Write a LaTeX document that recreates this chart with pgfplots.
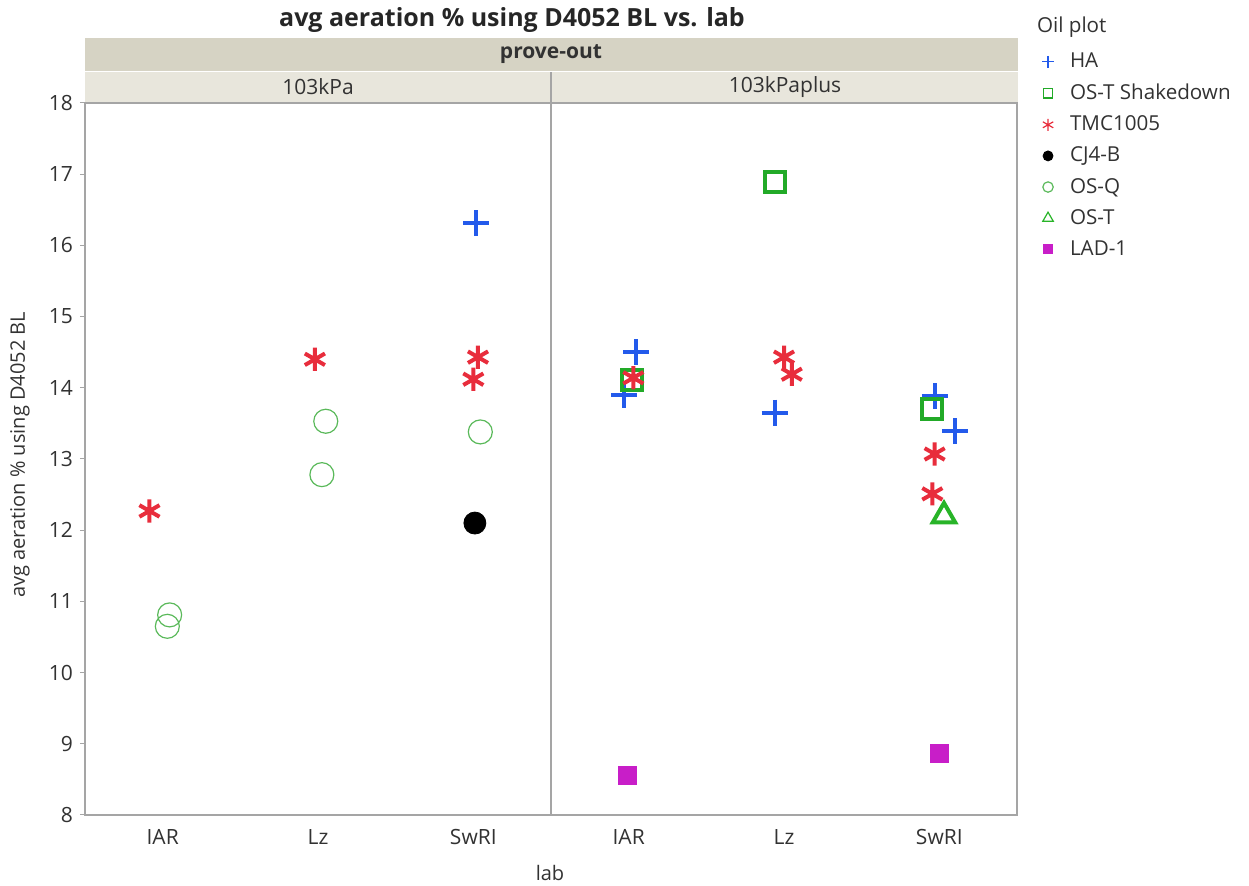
\documentclass[border=0pt]{standalone}
\usepackage{fontspec}
\setmainfont{Open Sans}
\usepackage{pgfplots}
\pgfplotsset{compat=1.18}
\definecolor{haBlue}{RGB}{35,90,235}
\definecolor{shGreen}{RGB}{34,170,40}
\definecolor{tmcRed}{RGB}{232,45,60}
\definecolor{osqGreen}{RGB}{90,185,90}
\definecolor{ostGreen}{RGB}{40,180,40}
\definecolor{ladMag}{RGB}{200,30,200}
\definecolor{hdrA}{RGB}{214,211,196}
\definecolor{hdrB}{RGB}{232,230,220}
\definecolor{frameGray}{RGB}{165,165,165}
\definecolor{txtGray}{RGB}{50,50,50}
\pgfplotsset{
  panel/.style={
    anchor=south west, width=233pt, height=356pt, scale only axis,
    xmin=-0.5, xmax=2.5, ymin=8, ymax=18,
    xtick={0,1,2}, xticklabels={IAR,Lz,SwRI},
    ytick={8,9,...,18},
    axis line style={draw=frameGray, line width=0.7pt},
    x tick style={draw=none},
    y tick style={draw=frameGray, line width=0.5pt},
    major tick length=2.5pt,
    tick align=outside, ytick pos=left, xtick pos=bottom,
    tick label style={font=\fontsize{10.5}{12}\selectfont, text=txtGray},
    /pgf/number format/assume math mode=true,
    xticklabel style={yshift=-1pt},
    clip=false,
  },
  ha/.style={only marks, mark=+, mark size=6.5pt, line width=2pt, haBlue},
  sh/.style={only marks, mark=square, mark size=5pt, line width=2pt, shGreen},
  tmc/.style={only marks, mark=asterisk, mark size=5.8pt, line width=2pt, tmcRed},
  cj/.style={only marks, mark=*, mark size=5.5pt, black, mark options={fill=black}},
  osq/.style={only marks, mark=o, mark size=6pt, line width=0.6pt, osqGreen},
  ost/.style={only marks, mark=triangle, mark size=6.5pt, line width=2pt, ostGreen},
  lad/.style={only marks, mark=square*, mark size=4.5pt, ladMag, mark options={fill=ladMag}},
}
\begin{document}
\begin{tikzpicture}[x=0.5pt,y=0.5pt]
\path[use as bounding box] (0,0) rectangle (1249,886);
% strip headers
\fill[hdrA] (85,815) rectangle (1018,848);
\fill[hdrB] (85,783) rectangle (1018,814);
\draw[frameGray, line width=0.6pt] (551,783) -- (551,814);
\node[font=\bfseries\fontsize{10.5}{12}\selectfont, text=txtGray] at (551,832) {prove-out};
\node[font=\fontsize{10.5}{12}\selectfont, text=txtGray] at (318,799) {103kPa};
\node[font=\fontsize{10.5}{12}\selectfont, text=txtGray] at (785,799) {103kPaplus};
% title
\node[font=\bfseries\fontsize{12.5}{14}\selectfont, text=black!85] at (512,866) {avg aeration \% using D4052 BL vs. lab};
% axis labels
\node[rotate=90, font=\fontsize{10}{12}\selectfont, text=txtGray] at (20,431) {avg aeration \% using D4052 BL};
\node[font=\fontsize{10}{12}\selectfont, text=txtGray] at (550,13) {lab};
% legend title
\node[anchor=west, font=\fontsize{10.3}{12}\selectfont, text=txtGray] at (1030,859) {Oil plot};

\begin{axis}[panel, at={(42.5pt,35.5pt)}]
\addplot[ha] coordinates {(2.02,16.31)};
\addplot[tmc] coordinates {(-0.085,12.27) (0.98,14.40) (2.03,14.43) (2.0,14.12)};
\addplot[cj] coordinates {(2.01,12.10)};
\addplot[osq] coordinates {(0.045,10.81) (0.03,10.65) (1.05,13.53) (1.025,12.78) (2.045,13.38)};
\end{axis}

\begin{axis}[panel, at={(275.5pt,35.5pt)}, yticklabels={}, y tick style={draw=none},
  legend style={at={(1.04,1.082)}, anchor=north west, draw=none, fill=none,
    font=\fontsize{10.3}{12}\selectfont, text=txtGray, row sep=2.6pt,
    cells={anchor=west}},
  legend cell align=left]
\addlegendimage{only marks, mark=+, haBlue, mark size=3pt, line width=0.6pt}
\addlegendentry{\hspace{6pt}HA}
\addlegendimage{only marks, mark=square, shGreen, mark size=2.3pt, line width=0.7pt}
\addlegendentry{\hspace{6pt}OS-T Shakedown}
\addlegendimage{only marks, mark=asterisk, tmcRed, mark size=3pt, line width=0.6pt}
\addlegendentry{\hspace{6pt}TMC1005}
\addlegendimage{only marks, mark=*, black, mark size=2.5pt}
\addlegendentry{\hspace{6pt}CJ4-B}
\addlegendimage{only marks, mark=o, osqGreen, mark size=2.6pt, line width=0.6pt}
\addlegendentry{\hspace{6pt}OS-Q}
\addlegendimage{only marks, mark=triangle, ostGreen, mark size=3pt, line width=0.6pt}
\addlegendentry{\hspace{6pt}OS-T}
\addlegendimage{only marks, mark=square*, ladMag, mark options={fill=ladMag}, mark size=2.3pt}
\addlegendentry{\hspace{6pt}LAD-1}
\addplot[ha, forget plot] coordinates {(0.05,14.50) (-0.03,13.90) (0.94,13.65) (1.97,13.88) (2.10,13.39)};
\addplot[sh, forget plot] coordinates {(0.02,14.11) (0.94,16.89) (1.955,13.70)};
\addplot[tmc, forget plot] coordinates {(0.03,14.14) (1.0,14.43) (1.05,14.19) (1.97,13.07) (1.955,12.51)};
\addplot[ost, forget plot] coordinates {(2.03,12.20)};
\addplot[lad, forget plot] coordinates {(-0.01,8.56) (2.0,8.87)};
\end{axis}
\end{tikzpicture}
\end{document}
